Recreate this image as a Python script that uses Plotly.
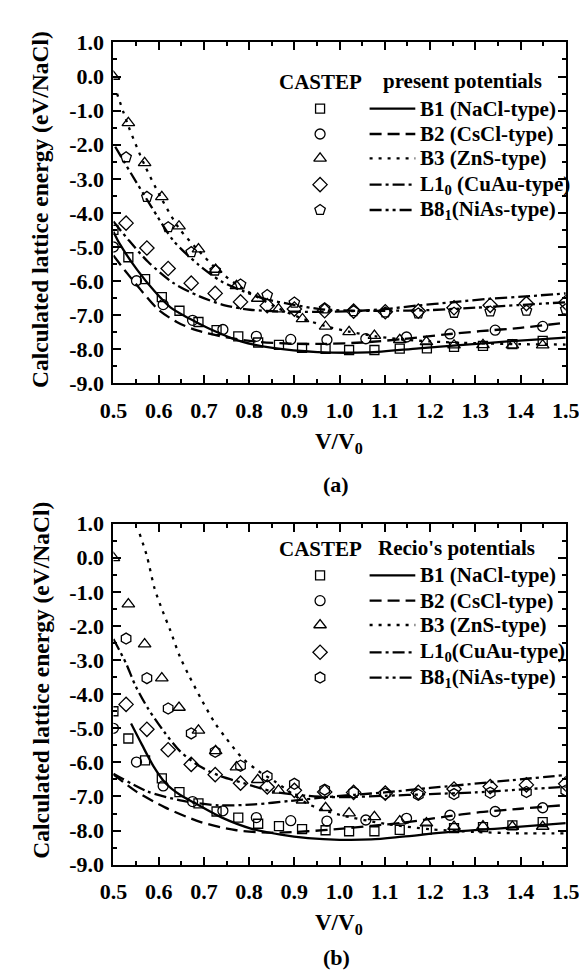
import plotly.graph_objects as go

# ---------------- data ----------------
# CASTEP points (identical in both panels)
b1_x = [0.5, 0.533, 0.570, 0.607, 0.646, 0.688, 0.728, 0.776, 0.820, 0.866, 0.917, 0.969, 1.021, 1.077, 1.133, 1.193, 1.253, 1.317, 1.382, 1.449]
b1_y = [-4.5, -5.30, -5.94, -6.47, -6.87, -7.20, -7.44, -7.62, -7.80, -7.87, -7.96, -7.99, -8.02, -8.02, -7.98, -7.97, -7.93, -7.90, -7.85, -7.75]
b2_x = [0.5, 0.551, 0.610, 0.675, 0.742, 0.816, 0.892, 0.972, 1.058, 1.148, 1.244, 1.344, 1.449]
b2_y = [-5.0, -5.99, -6.69, -7.15, -7.42, -7.62, -7.71, -7.72, -7.69, -7.64, -7.55, -7.44, -7.33]
b3_x = [0.5, 0.533, 0.569, 0.607, 0.645, 0.688, 0.726, 0.772, 0.819, 0.865, 0.918, 0.969, 1.021, 1.077, 1.133, 1.192, 1.253, 1.317, 1.382, 1.449]
b3_y = [0.0, -1.36, -2.53, -3.53, -4.39, -5.06, -5.66, -6.14, -6.51, -6.82, -7.11, -7.33, -7.49, -7.60, -7.72, -7.78, -7.88, -7.87, -7.88, -7.88]
l10_x = [0.528, 0.574, 0.621, 0.672, 0.725, 0.781, 0.840, 0.900, 0.967, 1.031, 1.101, 1.174, 1.253, 1.333, 1.413, 1.5]
l10_y = [-4.30, -5.03, -5.63, -6.06, -6.36, -6.61, -6.72, -6.82, -6.87, -6.88, -6.90, -6.88, -6.78, -6.71, -6.66, -6.63]
b81_x = [0.528, 0.574, 0.621, 0.672, 0.725, 0.781, 0.840, 0.900, 0.967, 1.031, 1.101, 1.174, 1.253, 1.333, 1.413, 1.5]
b81_y = [-2.37, -3.53, -4.42, -5.15, -5.69, -6.10, -6.41, -6.63, -6.80, -6.88, -6.92, -6.95, -6.93, -6.89, -6.87, -6.83]

# (a) present potentials
pa_b1_x = [0.5, 0.514, 0.553, 0.591, 0.626, 0.668, 0.711, 0.782, 0.852, 0.951, 1.063, 1.175, 1.273, 1.372, 1.5]
pa_b1_y = [-4.55, -4.91, -5.68, -6.30, -6.77, -7.10, -7.39, -7.77, -7.96, -8.08, -8.09, -7.97, -7.87, -7.77, -7.66]
pa_b2_x = [0.5, 0.525, 0.560, 0.598, 0.640, 0.683, 0.75, 0.82, 0.90, 0.97, 1.05, 1.14, 1.23, 1.31, 1.40, 1.5]
pa_b2_y = [-5.25, -5.68, -6.25, -6.82, -7.20, -7.44, -7.65, -7.78, -7.84, -7.84, -7.80, -7.70, -7.57, -7.47, -7.37, -7.22]
pa_b3_x = [0.508, 0.533, 0.569, 0.607, 0.645, 0.688, 0.726, 0.77, 0.82, 0.865, 0.918, 0.969, 1.02, 1.08, 1.13, 1.2, 1.3, 1.4, 1.5]
pa_b3_y = [-0.5, -1.45, -2.6, -3.6, -4.45, -5.1, -5.62, -6.08, -6.48, -6.8, -7.1, -7.32, -7.48, -7.62, -7.70, -7.77, -7.82, -7.85, -7.86]
pa_l10_x = [0.5, 0.535, 0.577, 0.633, 0.689, 0.746, 0.802, 0.872, 0.95, 1.03, 1.10, 1.17, 1.25, 1.33, 1.42, 1.5]
pa_l10_y = [-4.25, -4.82, -5.44, -6.06, -6.44, -6.71, -6.84, -6.89, -6.90, -6.88, -6.82, -6.72, -6.62, -6.52, -6.44, -6.36]
pa_b81_x = [0.504, 0.542, 0.584, 0.633, 0.689, 0.739, 0.788, 0.837, 0.893, 0.956, 1.03, 1.1, 1.2, 1.3, 1.4, 1.5]
pa_b81_y = [-2.06, -2.91, -3.82, -4.82, -5.53, -6.01, -6.30, -6.53, -6.68, -6.82, -6.87, -6.87, -6.85, -6.78, -6.70, -6.62]

# (b) Recio's potentials
pb_b1_x = [0.539, 0.563, 0.588, 0.616, 0.647, 0.681, 0.74, 0.804, 0.87, 0.93, 1.0, 1.07, 1.139, 1.244, 1.35, 1.5]
pb_b1_y = [-4.86, -5.48, -6.10, -6.62, -6.95, -7.20, -7.62, -7.94, -8.12, -8.22, -8.27, -8.26, -8.18, -8.04, -7.94, -7.78]
pb_b2_x = [0.5, 0.55, 0.614, 0.693, 0.772, 0.851, 0.93, 1.0, 1.07, 1.14, 1.23, 1.31, 1.4, 1.5]
pb_b2_y = [-6.35, -6.85, -7.32, -7.75, -7.99, -8.06, -8.02, -7.95, -7.86, -7.77, -7.60, -7.46, -7.36, -7.25]
pb_b3_x = [0.558, 0.574, 0.591, 0.609, 0.626, 0.647, 0.668, 0.696, 0.725, 0.749, 0.784, 0.819, 0.858, 0.93, 0.97, 1.0, 1.1, 1.2, 1.3, 1.4, 1.5]
pb_b3_y = [0.7, 0.05, -0.90, -1.57, -2.14, -2.90, -3.48, -4.19, -4.86, -5.29, -5.86, -6.24, -6.57, -7.22, -7.42, -7.54, -7.80, -7.96, -8.04, -8.08, -8.08]
pb_l10_x = [0.5, 0.575, 0.654, 0.733, 0.812, 0.891, 0.97, 1.034, 1.1, 1.2, 1.35, 1.5]
pb_l10_y = [-6.33, -6.85, -7.13, -7.26, -7.23, -7.13, -7.02, -6.95, -6.88, -6.75, -6.56, -6.37]
pb_b81_x = [0.5, 0.528, 0.549, 0.577, 0.612, 0.647, 0.689, 0.732, 0.788, 0.851, 0.93, 1.0, 1.1, 1.2, 1.3, 1.42, 1.5]
pb_b81_y = [-2.38, -3.10, -3.76, -4.43, -5.10, -5.67, -6.10, -6.38, -6.61, -6.85, -6.98, -7.02, -6.98, -6.93, -6.88, -6.78, -6.72]

# tick labels
x_ticks = [0.5, 0.6, 0.7, 0.8, 0.9, 1.0, 1.1, 1.2, 1.3, 1.4, 1.5]
x_ticktext = ["0.5", "0.6", "0.7", "0.8", "0.9", "1.0", "1.1", "1.2", "1.3", "1.4", "1.5"]
y_ticks = [1, 0, -1, -2, -3, -4, -5, -6, -7, -8, -9]
y_ticktext = ["1.0", "0.0", "-1.0", "-2.0", "-3.0", "-4.0", "-5.0", "-6.0", "-7.0", "-8.0", "-9.0"]

labels_a = ["B1 (NaCl-type)", "B2 (CsCl-type)", "B3 (ZnS-type)",
            "L1<sub>0</sub> (CuAu-type)", "B8<sub>1</sub>(NiAs-type)"]
labels_b = ["B1 (NaCl-type)", "B2 (CsCl-type)", "B3 (ZnS-type)",
            "L1<sub>0</sub>(CuAu-type)", "B8<sub>1</sub>(NiAs-type)"]
title_a = "present potentials"
title_b = "Recio's potentials"

# ---------------- styles ----------------
FONT = "Liberation Serif"
W, H = 587, 971
dashes = ["solid", "12px,6px", "3px,6px", "12px,4px,3px,4px", "12px,4px,3px,4px,3px,4px"]
syms_a = ["square-open", "circle-open", "triangle-up-open", "diamond-open", "pentagon-open"]
syms_b = ["square-open", "circle-open", "triangle-up-open", "diamond-open", "hexagon-open"]
msizes = [9, 10, 11, 11, 11]

castep = [(b1_x, b1_y), (b2_x, b2_y), (b3_x, b3_y), (l10_x, l10_y), (b81_x, b81_y)]
lines_a = [(pa_b1_x, pa_b1_y), (pa_b2_x, pa_b2_y), (pa_b3_x, pa_b3_y), (pa_l10_x, pa_l10_y), (pa_b81_x, pa_b81_y)]
lines_b = [(pb_b1_x, pb_b1_y), (pb_b2_x, pb_b2_y), (pb_b3_x, pb_b3_y), (pb_l10_x, pb_l10_y), (pb_b81_x, pb_b81_y)]

fig = go.Figure()

panels = [("x", "y", lines_a, syms_a), ("x2", "y2", lines_b, syms_b)]
for xa, ya, lines, syms in panels:
    for i, (lx, ly) in enumerate(lines):
        fig.add_trace(go.Scatter(x=lx, y=ly, mode="lines", xaxis=xa, yaxis=ya,
                                 line=dict(color="black", width=2.3, dash=dashes[i],
                                           shape="spline", smoothing=0.8),
                                 showlegend=False, hoverinfo="skip"))
    for i, (cx, cy) in enumerate(castep):
        fig.add_trace(go.Scatter(x=cx, y=cy, mode="markers", xaxis=xa, yaxis=ya,
                                 marker=dict(symbol=syms[i], size=msizes[i], color="black",
                                             line=dict(color="black", width=1.3)),
                                 showlegend=False, hoverinfo="skip", cliponaxis=True))

# ---------------- manual legends (pixel overlay axes) ----------------
leg = [
    dict(top_y=64, rows=[91, 117, 142, 169, 195], labels=labels_a, title=title_a, title_x=463, syms=syms_a),
    dict(top_y=543, rows=[570, 596, 621, 649, 675], labels=labels_b, title=title_b, title_x=456, syms=syms_b),
]
LFS = 21
annotations = []
for L in leg:
    for i, ry in enumerate(L["rows"]):
        fig.add_trace(go.Scatter(x=[313], y=[ry], mode="markers", xaxis="x3", yaxis="y3",
                                 marker=dict(symbol=L["syms"][i], size=msizes[i], color="black",
                                             line=dict(color="black", width=1.3)),
                                 showlegend=False, hoverinfo="skip"))
        fig.add_trace(go.Scatter(x=[365, 413], y=[ry, ry], mode="lines", xaxis="x3", yaxis="y3",
                                 line=dict(color="black", width=2.3, dash=dashes[i]),
                                 showlegend=False, hoverinfo="skip"))
        annotations.append(dict(x=416, y=ry, xref="x3", yref="y3", text=L["labels"][i],
                                showarrow=False, xanchor="left", yanchor="middle",
                                font=dict(family=FONT, size=LFS, color="black", weight="bold")))
    annotations.append(dict(x=313, y=L["top_y"], xref="x3", yref="y3", text="CASTEP",
                            showarrow=False, xanchor="center", yanchor="middle",
                            font=dict(family=FONT, size=LFS, color="black", weight="bold")))
    annotations.append(dict(x=L["title_x"], y=L["top_y"] - 1, xref="x3", yref="y3", text=L["title"],
                            showarrow=False, xanchor="center", yanchor="middle",
                            font=dict(family=FONT, size=LFS, color="black", weight="bold")))

# axis titles and panel labels
for yc, xt_y, pl_y, pl in [(195, 434, 477, "(a)"), (678, 928, 962, "(b)")]:
    annotations.append(dict(x=19, y=yc, xref="x3", yref="y3", text="Calculated lattice energy (eV/NaCl)",
                            textangle=-90, showarrow=False, xanchor="center", yanchor="middle",
                            font=dict(family=FONT, size=23.5, color="black", weight="bold")))
    annotations.append(dict(x=333, y=xt_y, xref="x3", yref="y3", text="V/V<sub>0</sub>",
                            showarrow=False, xanchor="center", yanchor="middle",
                            font=dict(family=FONT, size=23, color="black", weight="bold")))
    annotations.append(dict(x=330, y=pl_y, xref="x3", yref="y3", text=pl,
                            showarrow=False, xanchor="center", yanchor="middle",
                            font=dict(family=FONT, size=22, color="black", weight="bold")))

x0, x1 = 96 / W, 571 / W
dom_a = [(H - 373) / H, (H - 23) / H]
dom_b = [(H - 867) / H, (H - 517) / H]

tickfont = dict(family=FONT, size=22, color="black", weight="bold")
def xax(anchor):
    return dict(domain=[x0, x1], range=[0.5, 1.5], anchor=anchor, tickvals=x_ticks, ticktext=x_ticktext,
                ticks="inside", ticklen=8, tickwidth=2, tickcolor="black",
                minor=dict(ticks="inside", ticklen=4, tickwidth=2, tickcolor="black", dtick=0.05),
                showline=True, linewidth=2, linecolor="black", mirror="ticks",
                showgrid=False, zeroline=False, tickfont=tickfont, ticklabelstandoff=6, fixedrange=True)
def yax(anchor, dom):
    return dict(domain=dom, range=[-9, 1], anchor=anchor, tickvals=y_ticks, ticktext=y_ticktext,
                ticks="inside", ticklen=8, tickwidth=2, tickcolor="black",
                minor=dict(ticks="inside", ticklen=4, tickwidth=2, tickcolor="black", dtick=0.5),
                showline=True, linewidth=2, linecolor="black", mirror="ticks",
                showgrid=False, zeroline=False, tickfont=tickfont, ticklabelstandoff=3, fixedrange=True)

fig.update_layout(
    width=W, height=H, margin=dict(l=0, r=0, t=0, b=0),
    paper_bgcolor="white", plot_bgcolor="rgba(0,0,0,0)",
    showlegend=False,
    xaxis=xax("y"), yaxis=yax("x", dom_a),
    xaxis2=xax("y2"), yaxis2=yax("x2", dom_b),
    xaxis3=dict(domain=[0, 1], range=[0, W], visible=False, anchor="y3", fixedrange=True),
    yaxis3=dict(domain=[0, 1], range=[H, 0], visible=False, anchor="x3", fixedrange=True),
    annotations=annotations,
)

fig.write_html("out.html")
